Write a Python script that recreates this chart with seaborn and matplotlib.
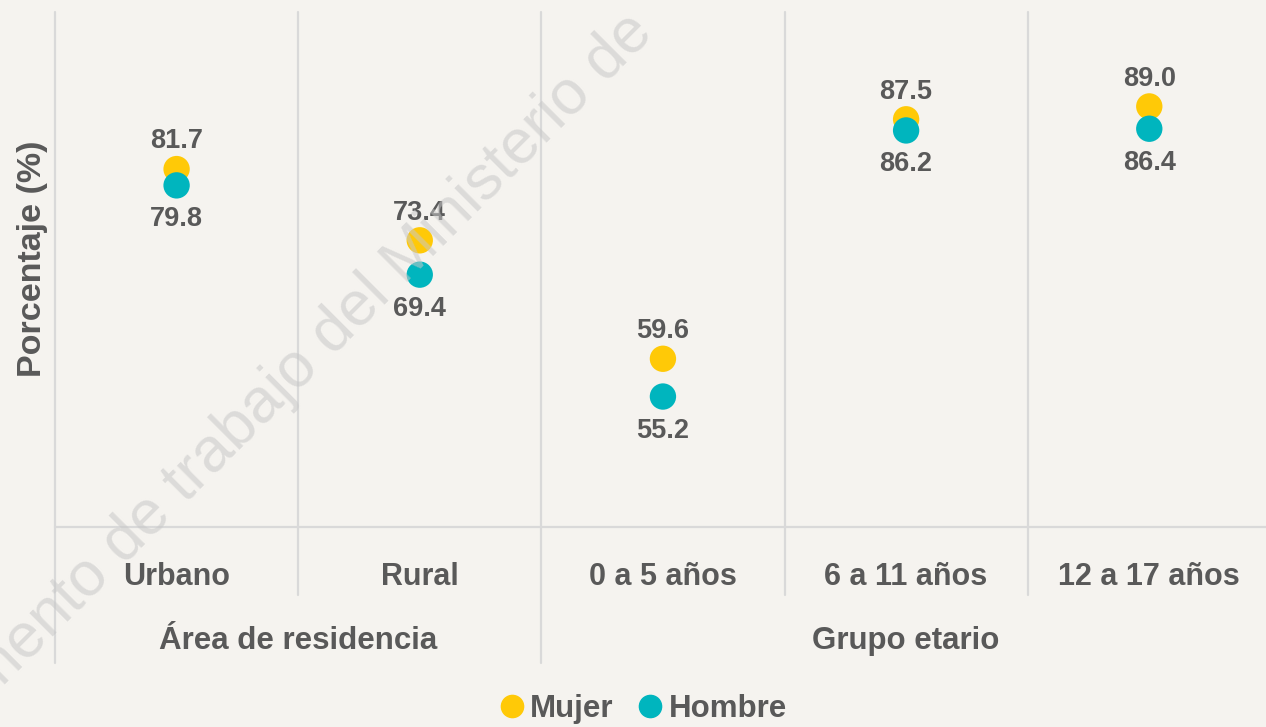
import matplotlib.pyplot as plt
import seaborn as sns
import pandas as pd

categorias = ["Urbano", "Rural", "0 a 5 años", "6 a 11 años", "12 a 17 años"]
mujer = [81.7, 73.4, 59.6, 87.5, 89.0]
hombre = [79.8, 69.4, 55.2, 86.2, 86.4]
grupos = ["Área de residencia", "Grupo etario"]
grupo_centro = [0.5, 3.0]

colores = {"Mujer": "#ffc907", "Hombre": "#00b5be"}
gris = "#595959"
linea = "#d9d9d9"

sns.set_style("white")
plt.rcParams["font.family"] = ["Liberation Sans", "DejaVu Sans"]
plt.rcParams["font.weight"] = "bold"

df = pd.DataFrame({
    "pos": list(range(5)) * 2,
    "valor": mujer + hombre,
    "Sexo": ["Mujer"] * 5 + ["Hombre"] * 5,
})

fig = plt.figure(figsize=(12.66, 7.27), dpi=100)
fig.patch.set_facecolor("#f5f3ef")
ax = fig.add_axes([55 / 1266, 200 / 727, 1211 / 1266, 515 / 727])
ax.set_facecolor("none")

sns.scatterplot(
    data=df, x="pos", y="valor", hue="Sexo", palette=colores,
    s=360, edgecolor="none", ax=ax, legend=False, zorder=3
)

ax.set_xlim(-0.5, 4.48)
ax.set_ylim(40, 100)
for s in ax.spines.values():
    s.set_visible(False)

# separadores
xt = ax.get_xaxis_transform()
for x in [-0.5, 0.5, 1.5, 2.5, 3.5]:
    bajo = -0.264 if x in (-0.5, 1.5) else -0.132
    ax.plot([x, x], [bajo, 1.0], transform=xt, color=linea, lw=1.6,
            clip_on=False, zorder=1)
ax.axhline(40, color=linea, lw=1.6, zorder=1, clip_on=False)

# etiquetas de valores
for i, (m, h) in enumerate(zip(mujer, hombre)):
    ax.annotate(f"{m:.1f}", (i, m), xytext=(0, 20), textcoords="offset points",
                ha="center", va="center", fontsize=19.5, color=gris, fontweight="bold")
    ax.annotate(f"{h:.1f}", (i, h), xytext=(0, -24.5), textcoords="offset points",
                ha="center", va="center", fontsize=19.5, color=gris, fontweight="bold")

ax.set_xticks(range(5))
ax.set_xticklabels(categorias, fontsize=22, color=gris, fontweight="bold")
ax.tick_params(axis="x", length=0, pad=25)
ax.set_yticks([])
ax.set_xlabel("")
ax.set_ylabel("Porcentaje (%)", fontsize=24.5, color=gris, fontweight="bold")
ax.yaxis.set_label_coords(-0.006, 0.52)

for g, c in zip(grupos, grupo_centro):
    ax.text(c, -0.221, g, transform=xt, ha="center", va="center",
            fontsize=22.5, color=gris, fontweight="bold")

# leyenda
handles = [plt.Line2D([], [], marker="o", ls="", color=colores[k], markersize=16)
           for k in ["Mujer", "Hombre"]]
leg = fig.legend(handles, ["Mujer", "Hombre"], loc="lower center",
                 bbox_to_anchor=(0.506, -0.034), ncol=2, frameon=False,
                 handletextpad=0.05, columnspacing=0.6, handlelength=1.1,
                 prop={"size": 22.5, "weight": "bold"})
for t in leg.get_texts():
    t.set_color(gris)

# marca de agua
fig.text(655 / 1266, 1 - 35 / 727, "Documento de trabajo del Ministerio de",
         rotation=45, rotation_mode="anchor", ha="right", va="baseline",
         fontsize=45, color="#c8c8c8", alpha=0.55, zorder=5,
         fontweight="normal", family=["Liberation Sans", "DejaVu Sans"])

fig.savefig("out.png", dpi=100, facecolor=fig.get_facecolor())
